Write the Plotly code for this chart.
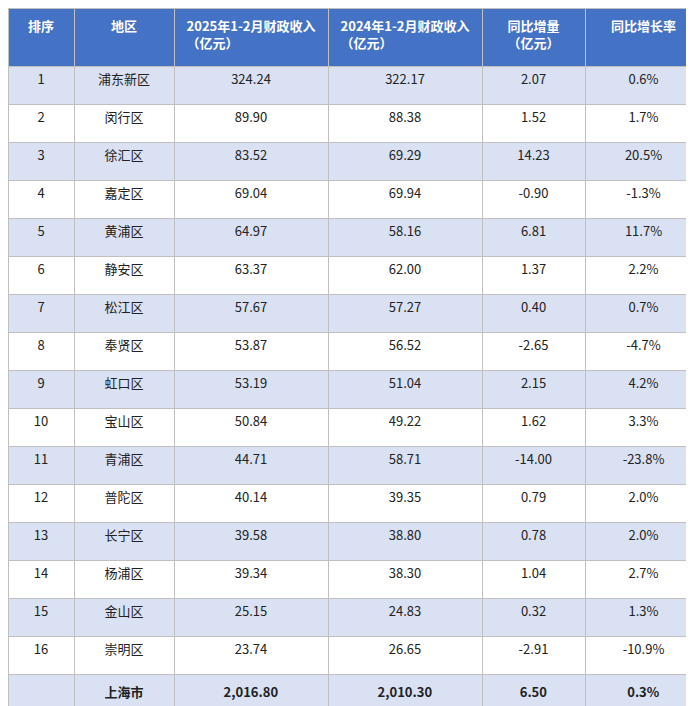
import plotly.graph_objects as go

ranks = [str(i) for i in range(1, 17)] + [""]
regions = ["浦东新区","闵行区","徐汇区","嘉定区","黄浦区","静安区","松江区","奉贤区","虹口区","宝山区","青浦区","普陀区","长宁区","杨浦区","金山区","崇明区","<b>上海市</b>"]
rev2025 = ["324.24","89.90","83.52","69.04","64.97","63.37","57.67","53.87","53.19","50.84","44.71","40.14","39.58","39.34","25.15","23.74","<b>2,016.80</b>"]
rev2024 = ["322.17","88.38","69.29","69.94","58.16","62.00","57.27","56.52","51.04","49.22","58.71","39.35","38.80","38.30","24.83","26.65","<b>2,010.30</b>"]
delta = ["2.07","1.52","14.23","-0.90","6.81","1.37","0.40","-2.65","2.15","1.62","-14.00","0.79","0.78","1.04","0.32","-2.91","<b>6.50</b>"]
rate = ["0.6%","1.7%","20.5%","-1.3%","11.7%","2.2%","0.7%","-4.7%","4.2%","3.3%","-23.8%","2.0%","2.0%","2.7%","1.3%","-10.9%","<b>0.3%</b>"]
headers = ["<br><b>排序</b>","<br><b>地区</b>","<b>2025年1-2月财政收入<br>（亿元）</b>","<b>2024年1-2月财政收入<br>（亿元）</b>","<b>同比增量<br>（亿元）</b>","<br><b>同比增长率</b>"]

fills = ["#D9E1F2" if i % 2 == 0 else "#FFFFFF" for i in range(16)] + ["#D9E1F2"]

fig = go.Figure(go.Table(
    columnwidth=[66, 100, 154, 154, 103, 117],
    header=dict(values=headers, fill_color="#4472C4", line_color="#BFBFBF",
                font=dict(color="white", size=13, family="Noto Sans CJK SC"),
                align="center", height=58),
    cells=dict(values=[ranks, regions, rev2025, rev2024, delta, rate],
               fill_color=[fills]*6, line_color="#BFBFBF",
               font=dict(color="#222222", size=13, family="Noto Sans CJK SC"),
               align="center", height=38),
))
fig.update_layout(width=694, height=706, margin=dict(l=0, r=0, t=0, b=0), paper_bgcolor="white")
fig.data[0].domain = dict(x=[0, 1], y=[0, 1])
fig.write_html("out.html")
